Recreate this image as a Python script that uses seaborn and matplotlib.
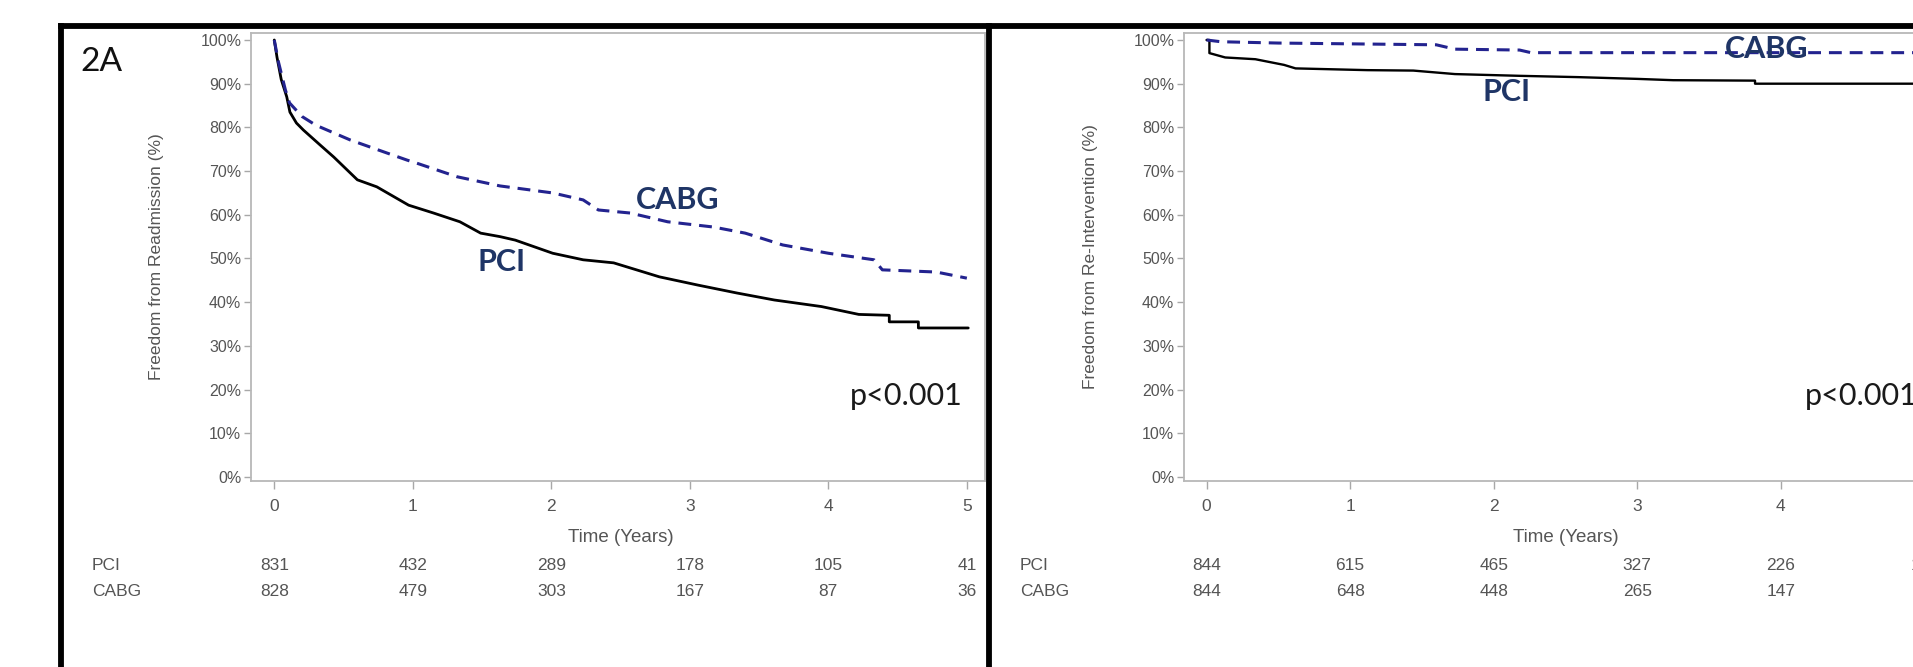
import matplotlib
matplotlib.use("Agg")
import matplotlib.pyplot as plt
import matplotlib.transforms as mtransforms
from matplotlib.lines import Line2D
from matplotlib.ticker import MultipleLocator, FuncFormatter
import seaborn as sns

# ---------------- data ----------------
years = [0, 1, 2, 3, 4, 5]

# Panel 2A: freedom from readmission (%)
readm_pci_t = [0, 0.02, 0.05, 0.09, 0.113, 0.16, 0.21, 0.33, 0.43, 0.6, 0.74, 0.97, 1.15, 1.34,
               1.49, 1.63, 1.74, 2.01, 2.23, 2.45, 2.78, 3.06, 3.34, 3.61, 3.95, 4.22, 4.44, 4.44,
               4.65, 4.65, 5.01]
readm_pci_s = [100, 96, 91, 87, 83.5, 81, 79.4, 76, 73.2, 68, 66.4, 62.2, 60.4, 58.4,
               55.8, 55, 54.2, 51.2, 49.7, 49, 45.8, 43.9, 42.1, 40.5, 39, 37.2, 37.0, 35.5,
               35.5, 34.1, 34.1]
readm_cabg_t = [0, 0.03, 0.08, 0.11, 0.2, 0.30, 0.55, 0.79, 0.96, 1.03, 1.32, 1.63, 2.01, 2.23,
                2.34, 2.57, 2.84, 3.17, 3.40, 3.67, 4.00, 4.33, 4.39, 4.78, 5.0]
readm_cabg_s = [100, 95, 88.6, 85.6, 82.5, 80.5, 77.1, 74.4, 72.5, 71.8, 68.7, 66.6, 65, 63.4,
                61.1, 60.4, 58.4, 57.2, 55.8, 53.1, 51.2, 49.7, 47.4, 46.9, 45.5]
readm_risk_pci = [831, 432, 289, 178, 105, 41]
readm_risk_cabg = [828, 479, 303, 167, 87, 36]

# Panel 2B: freedom from re-intervention (%)
reint_pci_t = [0, 0.02, 0.02, 0.13, 0.34, 0.54, 0.62, 1.12, 1.44, 1.73, 2.18, 2.59, 3.0, 3.25,
               3.82, 3.82, 5.15]
reint_pci_s = [100, 100, 97, 96, 95.6, 94.3, 93.5, 93.1, 93.0, 92.2, 91.8, 91.5, 91.1, 90.8,
               90.7, 90.0, 90.0]
reint_cabg_t = [0, 0.1, 0.5, 1.6, 1.73, 2.18, 2.26, 5.15]
reint_cabg_s = [100, 99.6, 99.3, 98.9, 97.9, 97.7, 97.1, 97.1]
reint_risk_pci = [844, 615, 465, 327, 226, 119]
reint_risk_cabg = [844, 648, 448, 265, 147, 71]

group_labels = ["PCI", "CABG"]

# ---------------- style ----------------
sns.set_style("white")
plt.rcParams["font.family"] = ["Liberation Sans", "DejaVu Sans"]

W, H = 1913, 667
fig = plt.figure(figsize=(W / 100, H / 100), dpi=100)
fig.patch.set_facecolor("white")

def fx(x):
    return x / W

def fy(y):
    return 1 - y / H

GRAY_TXT = "#555555"
GRAY_AX = "#b8b8b8"
NAVY = "#1f3566"
BLUE = "#23238f"

# black frames
frame_kw = dict(color="black", linewidth=4.2, solid_capstyle="projecting", transform=fig.transFigure)
fig.add_artist(Line2D([fx(60.8), fx(60.8)], [0, fy(25.5)], **frame_kw))
fig.add_artist(Line2D([fx(988.7), fx(988.7)], [0, fy(25.5)], **frame_kw))
fig.add_artist(Line2D([fx(60.8), 1.01], [fy(25.5), fy(25.5)], **frame_kw))

panels = [
    dict(rect=[251 / W, 186 / H, 734 / W, 448 / H], xlim=(-0.168, 5.131),
         pci=(readm_pci_t, readm_pci_s), cabg=(readm_cabg_t, readm_cabg_s),
         risk=(readm_risk_pci, readm_risk_cabg), ylabel="Freedom from Readmission (%)",
         ylab_x=156, risk_lab_x=92, pci_lab=(1.64, 49.2), cabg_lab=(2.91, 63.4),
         p_x=963, p_ha="right", pci_lw=2.0),
    dict(rect=[1184 / W, 186 / H, 762 / W, 448 / H], xlim=(-0.157, 5.15),
         pci=(reint_pci_t, reint_pci_s), cabg=(reint_cabg_t, reint_cabg_s),
         risk=(reint_risk_pci, reint_risk_cabg), ylabel="Freedom from Re-Intervention (%)",
         ylab_x=1090, risk_lab_x=1020, pci_lab=(2.09, 88.1), cabg_lab=(3.90, 97.9),
         p_x=1805, p_ha="left", pci_lw=1.7),
]

for P in panels:
    ax = fig.add_axes(P["rect"])
    ax.set_facecolor("white")
    sns.lineplot(x=P["pci"][0], y=P["pci"][1], ax=ax, estimator=None, sort=False,
                 color="black", linewidth=P["pci_lw"])
    sns.lineplot(x=P["cabg"][0], y=P["cabg"][1], ax=ax, estimator=None, sort=False,
                 color=BLUE, linewidth=2.2, linestyle=(0, (4.2, 2.6)))
    ax.set_xlim(*P["xlim"])
    ax.set_ylim(-0.92, 101.6)
    ax.set_xlabel("")
    ax.set_ylabel("")
    for s in ax.spines.values():
        s.set_color(GRAY_AX)
        s.set_linewidth(1.3)
    ax.set_xticks(years)
    ax.xaxis.set_minor_locator(MultipleLocator(0.5))
    ax.yaxis.set_major_locator(MultipleLocator(10))
    ax.yaxis.set_minor_locator(MultipleLocator(5))
    ax.yaxis.set_major_formatter(FuncFormatter(lambda v, p: f"{int(round(v))}%"))
    ax.tick_params(axis="both", which="both", direction="out", color="#a8a8a8", width=1.0,
                   labelcolor=GRAY_TXT)
    ax.tick_params(axis="x", which="major", length=6, pad=7, labelsize=12.5)
    ax.tick_params(axis="x", which="minor", length=6)
    ax.tick_params(axis="y", which="major", length=5, pad=2, labelsize=11.5)
    ax.tick_params(axis="y", which="minor", length=3)
    ax.tick_params(left=True, bottom=True)

    blend = mtransforms.blended_transform_factory(ax.transData, fig.transFigure)
    # x-axis title
    ax.text(2.5, fy(537), "Time (Years)", transform=blend, ha="center", va="center",
            fontsize=13.5, color=GRAY_TXT)
    # y-axis title
    fig.text(fx(P["ylab_x"]), fy(257), P["ylabel"], rotation=90, ha="center", va="center",
             fontsize=12.5, color=GRAY_TXT)
    # risk table
    for row, (lab, counts) in enumerate(zip(group_labels, P["risk"])):
        yy = fy(565 + 26 * row)
        fig.text(fx(P["risk_lab_x"]), yy, lab, ha="left", va="center", fontsize=12.5,
                 color=GRAY_TXT)
        for t, n in zip(years, counts):
            ax.text(t, yy, str(n), transform=blend, ha="center", va="center",
                    fontsize=12.5, color=GRAY_TXT, clip_on=False)
    # curve labels
    ax.text(*P["pci_lab"], "PCI", ha="center", va="center", fontsize=22,
            fontweight="bold", color=NAVY, family=["Lato", "DejaVu Sans"])
    ax.text(*P["cabg_lab"], "CABG", ha="center", va="center", fontsize=22,
            fontweight="bold", color=NAVY, family=["Lato", "DejaVu Sans"])
    # p-value
    fig.text(fx(P["p_x"]), fy(405), "p<0.001", ha=P["p_ha"], va="baseline", fontsize=22,
             color="#1a1a1a", family=["Lato", "DejaVu Sans"])

# panel letter
fig.text(fx(80), fy(71), "2A", ha="left", va="baseline", fontsize=24, color="#111111",
         family=["Lato", "DejaVu Sans"])

fig.savefig("out.png", dpi=100, facecolor="white")
